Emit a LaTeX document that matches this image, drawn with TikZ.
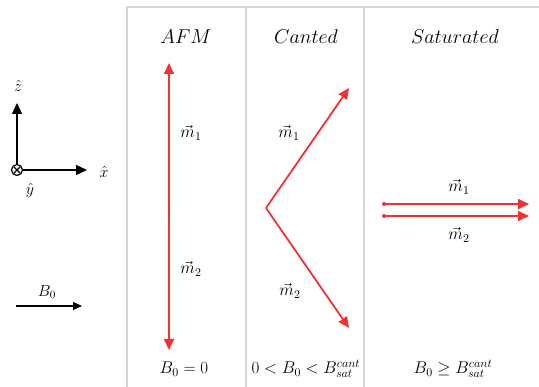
\documentclass[tikz,border=0pt]{standalone}
\usepackage{fix-cm}
\usetikzlibrary{arrows.meta,calc}
\definecolor{spinred}{HTML}{F03232}
\definecolor{framegray}{HTML}{D2D6DA}
\tikzset{
  frameline/.style={draw=framegray, line width=1.6pt},
  spin/.style={draw=spinred, line width=1.8pt, -{Triangle[length=11pt,width=10pt]}},
  axisarrow/.style={draw=black, line width=1.3pt, -{Triangle[length=11pt,width=10pt]}},
  title/.style={font=\fontsize{20}{24}\selectfont},
  lab/.style={font=\fontsize{17}{21}\selectfont},
  small/.style={font=\fontsize{16}{19}\selectfont},
  dotmark/.style={circle, fill=spinred, inner sep=0pt, minimum size=4pt}
}
\begin{document}
\begin{tikzpicture}[x=1pt,y=-1pt]
\useasboundingbox (0,0) rectangle (539,387);
% frame
\coordinate (f1t) at (127,7); \coordinate (f1b) at (127,387);
\coordinate (f2t) at (246,7); \coordinate (f2b) at (246,387);
\coordinate (f3t) at (364,7); \coordinate (f3b) at (364,387);
\coordinate (fr) at (539,7);
\draw[frameline] (f1b) -- (f1t) -- (fr);
\draw[frameline] (f2t) -- (f2b);
\draw[frameline] (f3t) -- (f3b);
% axes
\coordinate (o) at (17,170);
\coordinate (zt) at (17,103);
\coordinate (xt) at (87,170);
\draw[axisarrow] (o) -- (zt);
\draw[axisarrow] (o) -- (xt);
\node[circle, draw, line width=1.2pt, fill=white, minimum size=11pt, inner sep=0pt] (oy) at (o) {};
\draw[line width=1.1pt] ($(o)+(-3.2,-3.2)$) -- ($(o)+(3.2,3.2)$) ($(o)+(-3.2,3.2)$) -- ($(o)+(3.2,-3.2)$);
\node[small] (zl) at (18,86) {$\hat{z}$};
\node[small] (xl) at (104,172) {$\hat{x}$};
\node[small] (yl) at (30,191) {$\hat{y}$};
% B0 arrow
\coordinate (b0s) at (16,306);
\coordinate (b0e) at (82,306);
\draw[draw=black, line width=1.3pt, -{Triangle[length=9pt,width=8pt]}] (b0s) -- (b0e);
\node[small] (b0l) at (47,292) {$B_0$};
% titles
\node[title] (t1) at (186,37) {$AFM$};
\node[title] (t2) at (306,37) {$Canted$};
\node[title] (t3) at (455,37) {$Saturated$};
% AFM
\coordinate (ac) at (169,208);
\coordinate (au) at (169,63);
\coordinate (ad) at (169,350);
\draw[spin] (ac) -- (au);
\draw[spin] (ac) -- (ad);
\node[dotmark, minimum size=3pt] (acd) at (ac) {};
\node[lab] (am1) at (191,133) {$\vec{m}_1$};
\node[lab] (am2) at (191,269) {$\vec{m}_2$};
% Canted
\coordinate (cc) at (266,208);
\coordinate (cu) at (349,88);
\coordinate (cd) at (349,328);
\draw[spin] (cc) -- (cu);
\draw[spin] (cc) -- (cd);
\node[lab] (cm1) at (289,133) {$\vec{m}_1$};
\node[lab] (cm2) at (290,291) {$\vec{m}_2$};
% Saturated
\coordinate (s1s) at (384,204); \coordinate (s1e) at (529,204);
\coordinate (s2s) at (384,216); \coordinate (s2e) at (529,216);
\draw[spin] (s1s) -- (s1e);
\draw[spin] (s2s) -- (s2e);
\node[dotmark] (s1d) at (s1s) {};
\node[dotmark] (s2d) at (s2s) {};
\node[lab] (sm1) at (459,187) {$\vec{m}_1$};
\node[lab] (sm2) at (459,235) {$\vec{m}_2$};
% bottom conditions
\node[lab] (c1) at (184,369) {$B_0 = 0$};
\node[lab] (c2) at (306,369) {$0 < B_0 < B_{sat}^{cant}$};
\node[lab] (c3) at (453,369) {$B_0 \geq B_{sat}^{cant}$};
\end{tikzpicture}
\end{document}
